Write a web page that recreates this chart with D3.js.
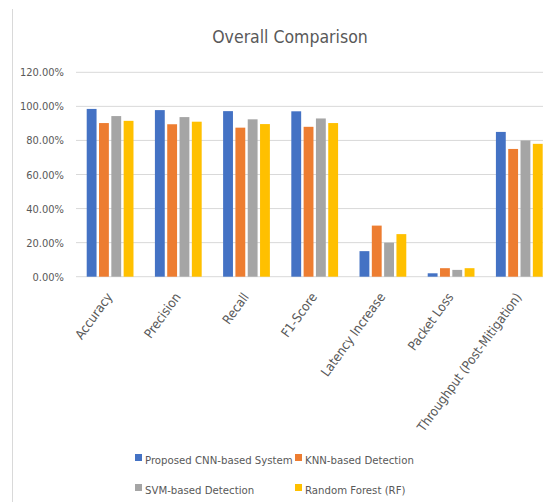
<!DOCTYPE html>
<html>
<head>
<meta charset="utf-8">
<script src="https://cdn.jsdelivr.net/npm/d3@7"></script>
<style>
  body { margin: 0; background: #fff; }
  svg text { font-family: "Liberation Sans Narrow", "DejaVu Sans Condensed", "Roboto", sans-serif; fill: #595959; }
</style>
</head>
<body>
<div id="chart"></div>
<script>
// chart data
const categories = ["Accuracy", "Precision", "Recall", "F1-Score", "Latency Increase", "Packet Loss", "Throughput (Post-Mitigation)"];
const seriesNames = ["Proposed CNN-based System", "KNN-based Detection", "SVM-based Detection", "Random Forest (RF)"];
const cnnValues = [0.985, 0.978, 0.972, 0.971, 0.15, 0.02, 0.85];
const knnValues = [0.902, 0.895, 0.875, 0.880, 0.30, 0.05, 0.75];
const svmValues = [0.943, 0.937, 0.924, 0.929, 0.20, 0.04, 0.80];
const rfValues = [0.915, 0.910, 0.896, 0.902, 0.25, 0.05, 0.78];
const yTicks = [0, 0.2, 0.4, 0.6, 0.8, 1.0, 1.2];
const colors = ["#4472C4", "#ED7D31", "#A5A5A5", "#FFC000"];

const allValues = [cnnValues, knnValues, svmValues, rfValues];

let width = 543;
let height = 502;

let svg = d3.select("#chart")
    .append("svg")
    .attr("width", width)
    .attr("height", height);

// outer chart border on the left
svg.append("line")
    .attr("x1", 12.5).attr("x2", 12.5)
    .attr("y1", 9).attr("y2", height)
    .attr("stroke", "#d9d9d9");

svg.append("text")
    .text("Overall Comparison")
    .attr("x", 290)
    .attr("y", 43)
    .attr("text-anchor", "middle")
    .style("font-size", "17.5px");

let x0 = d3.scaleBand()
    .domain(categories)
    .range([76, 553.4])
    .padding(0);

let x1 = d3.scaleBand()
    .domain(seriesNames)
    .range([0, x0.bandwidth()])
    .paddingInner(0.2)
    .paddingOuter(0.87);

let y = d3.scaleLinear()
    .domain([0, 1.2])
    .range([276.7, 72.3]);

// gridlines
svg.append("g")
    .selectAll("line")
    .data(yTicks)
    .enter()
    .append("line")
    .attr("x1", 76)
    .attr("x2", width)
    .attr("y1", d => y(d))
    .attr("y2", d => y(d))
    .attr("stroke", "#d9d9d9")
    .attr("stroke-width", 1);

// y axis labels
let yAxis = svg.append("g")
    .attr("transform", "translate(64,0)")
    .call(d3.axisLeft(y).tickValues(yTicks).tickSize(0).tickPadding(0).tickFormat(d3.format(".2%")));
yAxis.select(".domain").remove();
yAxis.selectAll("text")
    .style("font-size", "11px")
    .attr("fill", "#595959");

// bars
let groups = svg.append("g")
    .selectAll("g")
    .data(categories)
    .enter()
    .append("g")
    .attr("transform", d => `translate(${x0(d)},0)`);

groups.selectAll("rect")
    .data((d, i) => seriesNames.map((s, j) => ({ series: s, value: allValues[j][i], color: colors[j] })))
    .enter()
    .append("rect")
    .attr("x", d => x1(d.series))
    .attr("width", x1.bandwidth())
    .attr("y", d => y(d.value))
    .attr("height", d => y(0) - y(d.value))
    .attr("fill", d => d.color);

// category labels
svg.append("g")
    .selectAll("text")
    .data(categories)
    .enter()
    .append("text")
    .text(d => d)
    .attr("text-anchor", "end")
    .style("font-size", "13px")
    .attr("transform", d => `translate(${x0(d) + x0.bandwidth() / 2 + 3},${297})rotate(-54)`);

// legend
const legendPos = [[135, 460], [295, 460], [135, 490], [295, 490]];
let legend = svg.append("g")
    .selectAll("g")
    .data(seriesNames)
    .enter()
    .append("g")
    .attr("transform", (d, i) => `translate(${legendPos[i][0]},${legendPos[i][1]})`);

legend.append("rect")
    .attr("x", 0)
    .attr("y", -6)
    .attr("width", 7)
    .attr("height", 7)
    .attr("fill", (d, i) => colors[i]);

legend.append("text")
    .text(d => d)
    .attr("x", 10)
    .attr("y", 1)
    .attr("dy", "0.3em")
    .style("font-size", "11.3px");
</script>
</body>
</html>
